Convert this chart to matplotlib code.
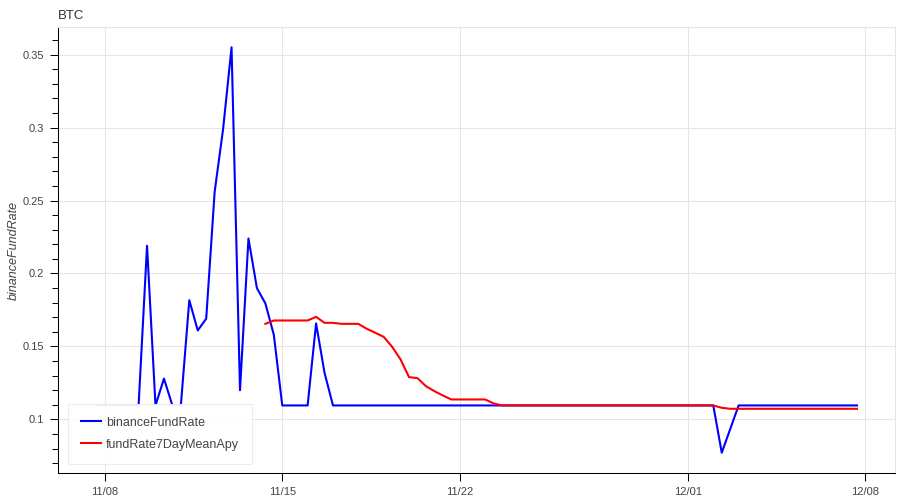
import matplotlib
matplotlib.use("Agg")
import matplotlib.pyplot as plt
import matplotlib.dates as mdates
from matplotlib.ticker import FixedLocator, MultipleLocator, FuncFormatter
import pandas as pd

plt.rcParams['font.family'] = ['Liberation Sans', 'DejaVu Sans']

# 8-hourly samples, 11/07 16:00 -> 12/07 16:00
dates = pd.date_range("2022-11-07 16:00", periods=91, freq="8h")

binance_fund_rate = [
    0.1096, 0.1096, 0.1096, 0.1096, 0.1096, 0.1096,
    0.2190, 0.1096, 0.1280, 0.1096, 0.1096, 0.1817, 0.1610, 0.1690,
    0.2560, 0.2990, 0.3550, 0.1200, 0.2240, 0.1900, 0.1795, 0.1580,
    0.1096, 0.1096, 0.1096, 0.1096,
    0.1658, 0.1320,
    0.1096, 0.1096, 0.1096, 0.1096, 0.1096, 0.1096, 0.1096, 0.1096, 0.1096, 0.1096,
    0.1096, 0.1096, 0.1096, 0.1096, 0.1096, 0.1096, 0.1096, 0.1096, 0.1096, 0.1096,
    0.1096, 0.1096, 0.1096, 0.1096, 0.1096, 0.1096, 0.1096, 0.1096, 0.1096, 0.1096,
    0.1096, 0.1096, 0.1096, 0.1096, 0.1096, 0.1096, 0.1096, 0.1096, 0.1096, 0.1096,
    0.1096, 0.1096, 0.1096, 0.1096, 0.1096, 0.1096,
    0.0772, 0.0934,
    0.1096, 0.1096, 0.1096, 0.1096, 0.1096, 0.1096, 0.1096, 0.1096, 0.1096, 0.1096,
    0.1096, 0.1096, 0.1096, 0.1096, 0.1096,
]

# 7-day mean starts at 11/14 08:00 (index 20 of dates)
mean_start = 20
fund_rate_7day_mean_apy = [
    0.1655, 0.1678, 0.1678, 0.1678, 0.1678, 0.1678, 0.1703, 0.1662, 0.1662,
    0.1655, 0.1655, 0.1655, 0.1621, 0.1594, 0.1566, 0.1498, 0.1411, 0.1290,
    0.1283, 0.1228, 0.1194, 0.1164, 0.1137, 0.1137, 0.1137, 0.1137, 0.1137,
    0.1110,
    0.1096, 0.1096, 0.1096, 0.1096, 0.1096, 0.1096, 0.1096, 0.1096, 0.1096, 0.1096,
    0.1096, 0.1096, 0.1096, 0.1096, 0.1096, 0.1096, 0.1096, 0.1096, 0.1096, 0.1096,
    0.1096, 0.1096, 0.1096, 0.1096, 0.1096, 0.1096,
    0.1080,
    0.1073, 0.1073, 0.1073, 0.1073, 0.1073, 0.1073, 0.1073, 0.1073,
    0.1073, 0.1073, 0.1073, 0.1073, 0.1073, 0.1073, 0.1073, 0.1073,
]

x_ticks = ["2022-11-08", "2022-11-15", "2022-11-22", "2022-12-01", "2022-12-08"]
y_ticks = [0.1, 0.15, 0.2, 0.25, 0.3, 0.35]

fig = plt.figure(figsize=(9, 5), dpi=100)
ax = fig.add_axes([58.3 / 900, 1 - 473 / 500, (895 - 58.3) / 900, (473 - 27) / 500])

ax.plot(dates, binance_fund_rate, color="#0000ff", lw=1.5, label="binanceFundRate",
        solid_joinstyle="round")
ax.plot(dates[mean_start:], fund_rate_7day_mean_apy, color="#ff0000", lw=1.5,
        label="fundRate7DayMeanApy", solid_joinstyle="round")

# Bokeh-like 5% range padding
x0, x1 = mdates.date2num(dates[0]), mdates.date2num(dates[-1])
px = (x1 - x0) * 0.05
ax.set_xlim(x0 - px, x1 + px)
ymin, ymax = min(binance_fund_rate), max(binance_fund_rate)
py = (ymax - ymin) * 0.05
ax.set_ylim(ymin - py, ymax + py)

ax.xaxis.set_major_locator(FixedLocator(mdates.date2num(pd.to_datetime(x_ticks))))
ax.xaxis.set_major_formatter(mdates.DateFormatter("%m/%d"))
ax.yaxis.set_major_locator(FixedLocator(y_ticks))
ax.yaxis.set_minor_locator(MultipleLocator(0.01))
ax.yaxis.set_major_formatter(FuncFormatter(lambda v, p: f"{v:g}"))

ax.grid(True, which="major", color="#e5e5e5", lw=0.75)
ax.set_axisbelow(True)

for s in ("top", "right"):
    ax.spines[s].set_color("#e5e5e5")
    ax.spines[s].set_linewidth(0.75)
for s in ("left", "bottom"):
    ax.spines[s].set_color("black")
    ax.spines[s].set_linewidth(0.75)

ax.tick_params(axis="both", which="major", direction="out", length=6, width=0.75,
               color="black", labelsize=8, labelcolor="#444444", pad=4)
ax.tick_params(axis="y", which="minor", direction="out", length=4, width=0.75, color="black")
ax.tick_params(axis="x", which="minor", length=0)

ax.set_ylabel("binanceFundRate", fontsize=9, style="italic", color="#444444")
ax.yaxis.set_label_coords((19.5 - 58.3) / 836.7, 0.5)
ax.set_title("BTC", loc="left", fontsize=9.5, color="#333333", pad=6)

leg = ax.legend(loc="lower left", bbox_to_anchor=(0.0116, 0.0202), borderaxespad=0,
                fontsize=9, frameon=True, fancybox=False, framealpha=0.95,
                edgecolor="#ececec", handlelength=1.6, handletextpad=0.4,
                borderpad=1.05, labelspacing=0.8)
leg.get_frame().set_linewidth(0.75)
for t in leg.get_texts():
    t.set_color("#444444")

fig.savefig("out.png", dpi=100)
